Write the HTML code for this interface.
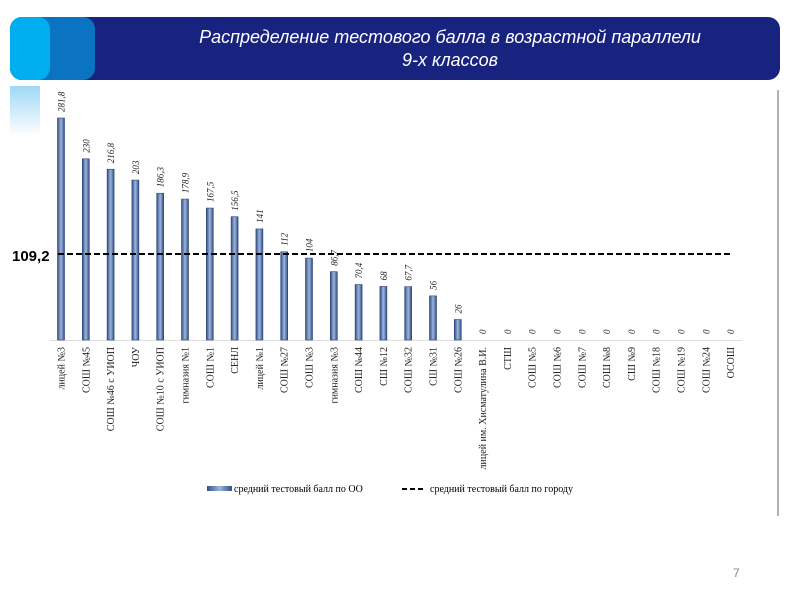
<!DOCTYPE html>
<html><head><meta charset="utf-8"><style>
body{margin:0;width:800px;height:600px;background:#fff;overflow:hidden;font-family:"Liberation Sans",sans-serif}
</style></head><body>
<svg width="800" height="600" xmlns="http://www.w3.org/2000/svg">
<defs>
<linearGradient id="bg" x1="0" x2="1"><stop offset="0" stop-color="#2f4f86"/><stop offset="0.5" stop-color="#9fb5dc"/><stop offset="1" stop-color="#2f4f86"/></linearGradient>
<linearGradient id="fade" x1="0" y1="0" x2="0" y2="1"><stop offset="0" stop-color="#9fd8f5"/><stop offset="1" stop-color="#fff"/></linearGradient>
</defs>
<rect x="10" y="86" width="70" height="50" fill="url(#fade)"/>
<rect x="40" y="86" width="738" height="430" fill="#fff"/>
<line x1="778" y1="90" x2="778" y2="516" stroke="#999" stroke-width="1.5"/>
<g>
<rect x="10" y="17" width="770" height="63" rx="12" fill="#17237f"/>
<rect x="10" y="17" width="85" height="63" rx="12" fill="#0a74c2"/>
<rect x="10" y="17" width="40" height="63" rx="12" fill="#00aeef"/>
<text x="450" y="43" text-anchor="middle" fill="#fff" font-size="18" font-style="italic">Распределение тестового балла в возрастной параллели</text>
<text x="450" y="66" text-anchor="middle" fill="#fff" font-size="18" font-style="italic">9-х классов</text>
</g>
<g id="chart"></g>
<text x="12" y="261" font-size="15" font-weight="bold" fill="#000">109,2</text>
<g font-family="Liberation Serif, serif" font-size="10">
<rect x="207" y="486" width="25" height="5" fill="url(#bg)"/>
<text x="234" y="492">средний тестовый балл по ОО</text>
<line x1="402" y1="489" x2="424" y2="489" stroke="#000" stroke-width="2" stroke-dasharray="5,3"/>
<text x="430" y="492">средний тестовый балл по городу</text>
</g>
<text x="733" y="577" font-size="12" fill="#888">7</text>
</svg>
<script>
const categories=["лицей №3","СОШ №45","СОШ №46 с УИОП","ЧОУ","СОШ №10 с УИОП","гимназия №1","СОШ №1","СЕНЛ","лицей №1","СОШ №27","СОШ №3","гимназия №3","СОШ №44","СШ №12","СОШ №32","СШ №31","СОШ №26","лицей им. Хисматулина В.И.","СТШ","СОШ №5","СОШ №6","СОШ №7","СОШ №8","СШ №9","СОШ №18","СОШ №19","СОШ №24","ОСОШ"];
const values=[281.8,230,216.8,203,186.3,178.9,167.5,156.5,141,112,104,86.7,70.4,68,67.7,56,26,0,0,0,0,0,0,0,0,0,0,0];
const valueLabels=["281,8","230","216,8","203","186,3","178,9","167,5","156,5","141","112","104","86,7","70,4","68","67,7","56","26","0","0","0","0","0","0","0","0","0","0","0"];
const cityAverage=109.2;
const NS="http://www.w3.org/2000/svg";
const g=document.getElementById('chart');
const x0=61,step=24.8,base=340,k=222/281.8;
const xs=i=>x0+i*step, ys=v=>base-v*k;
function mk(t,a){const e=document.createElementNS(NS,t);for(const n in a)e.setAttribute(n,a[n]);g.appendChild(e);return e;}
const ax=mk('line',{x1:50,y1:base+0.5,x2:742,y2:base+0.5,stroke:'#ddd'});


values.forEach((v,i)=>{
 const x=xs(i);
 if(v>0){
  const r=mk('rect',{x:x-3.5,y:ys(v),width:7,height:base-ys(v),fill:'url(#bg)',stroke:'#2a4477','stroke-width':0.6});
  
  
 }
 const vt=mk('text',{transform:`translate(${x+3.5},${ys(v)-6}) rotate(-90)`,'font-size':9,'font-style':'italic','font-family':'Liberation Serif, serif',fill:'#222'});
 vt.textContent=valueLabels[i];
 
 
 const ct=mk('text',{transform:`translate(${x+3.5},347) rotate(-90)`,'font-size':10,'text-anchor':'end','font-family':'Liberation Serif, serif',fill:'#222'});
 ct.textContent=categories[i];
 
 
});
const avg=mk('line',{x1:58,y1:ys(cityAverage),x2:732,y2:ys(cityAverage),stroke:'#000','stroke-width':2,'stroke-dasharray':'6,3'});


</script>
</body></html>
